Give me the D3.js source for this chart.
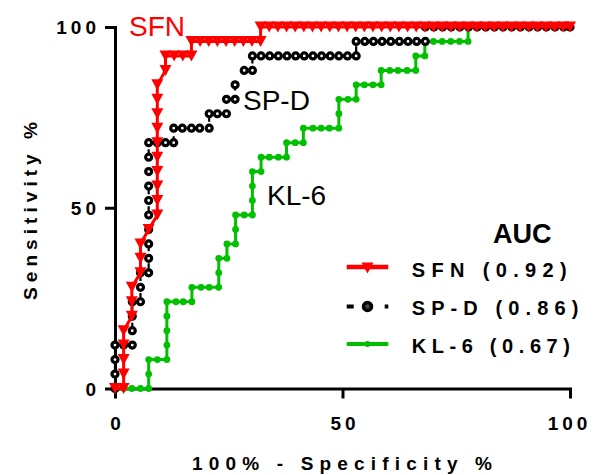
<!DOCTYPE html>
<html>
<head>
<meta charset="utf-8">
<script src="https://cdn.jsdelivr.net/npm/d3@7"></script>
<style>
  body { margin: 0; background: #fff; }
  svg { display: block; }
</style>
</head>
<body>
<div id="chart"></div>
<script>
// ROC points: [100% - specificity, sensitivity]
const sfnPoints = [
  [0, 0], [1.9, 0], [1.9, 4], [1.9, 8], [1.9, 12], [1.9, 16], [3.7, 20], [3.7, 24], [3.7, 28],
  [5.6, 32], [5.6, 36], [5.6, 40], [7.4, 44], [9.3, 48], [9.3, 52], [9.3, 56], [9.3, 60],
  [9.3, 64], [9.3, 68], [9.3, 72], [9.3, 76], [9.3, 80], [9.3, 84], [11.1, 88], [11.1, 92],
  [13.0, 92], [14.9, 92], [16.8, 92], [16.8, 96], [18.7, 96], [20.6, 96], [22.5, 96], [24.4, 96],
  [26.3, 96], [28.2, 96], [30.1, 96], [32.0, 96], [32.0, 100], [33.9, 100], [35.8, 100],
  [37.7, 100], [39.6, 100], [41.5, 100], [43.4, 100], [45.3, 100], [47.2, 100], [49.1, 100],
  [51.0, 100], [52.9, 100], [54.8, 100], [56.7, 100], [58.6, 100], [60.5, 100], [62.4, 100],
  [64.3, 100], [66.2, 100], [68.1, 100], [70.0, 100], [71.9, 100], [73.8, 100], [75.7, 100],
  [77.6, 100], [79.5, 100], [81.4, 100], [83.3, 100], [85.2, 100], [87.1, 100], [89.0, 100],
  [90.9, 100], [92.8, 100], [94.7, 100], [96.6, 100], [98.5, 100], [100, 100]
];

const spdPoints = [
  [0, 0], [0, 4], [0, 8], [0, 12], [1.9, 12], [3.8, 12], [3.8, 16], [3.8, 20], [3.8, 24],
  [5.6, 24], [5.6, 28], [5.6, 32], [7.4, 32], [7.4, 36], [7.4, 40], [7.4, 44], [7.4, 48],
  [7.4, 52], [7.4, 56], [7.4, 60], [7.4, 64], [7.4, 68], [9.3, 68], [11.1, 68], [12.9, 68],
  [12.9, 72], [14.8, 72], [16.8, 72], [18.6, 72], [20.7, 72], [20.7, 76], [22.5, 76], [24.5, 76],
  [24.5, 80], [26.4, 80], [26.4, 84], [28.4, 88], [30.2, 88], [30.2, 92], [32.1, 92], [34.0, 92],
  [35.9, 92], [37.8, 92], [39.7, 92], [41.6, 92], [43.5, 92], [45.4, 92], [47.3, 92], [49.2, 92],
  [51.1, 92], [53.0, 92], [53.0, 96], [54.9, 96], [56.8, 96], [58.7, 96], [60.6, 96], [62.5, 96],
  [64.4, 96], [66.3, 96], [68.2, 96], [68.2, 100], [70.1, 100], [72.0, 100], [73.9, 100],
  [75.8, 100], [77.7, 100], [79.6, 100], [81.5, 100], [83.4, 100], [85.3, 100], [87.2, 100],
  [89.1, 100], [91.0, 100], [92.9, 100], [94.8, 100], [96.7, 100], [98.6, 100], [100, 100]
];

const kl6Points = [
  [0, 0], [1.9, 0], [3.7, 0], [5.6, 0], [7.4, 0], [7.4, 4], [7.4, 8], [9.3, 8], [11.4, 8],
  [11.4, 12], [11.4, 16], [11.4, 20], [11.4, 24], [13.4, 24], [15.0, 24], [16.9, 24],
  [16.9, 28], [18.9, 28], [20.7, 28], [22.8, 28], [22.8, 32], [22.8, 36], [24.6, 36],
  [24.6, 40], [26.5, 40], [26.5, 44], [26.5, 48], [28.4, 48], [30.2, 48], [30.2, 52],
  [30.2, 56], [30.2, 60], [32.1, 60], [32.1, 64], [33.9, 64], [35.9, 64], [37.7, 64],
  [37.7, 68], [39.6, 68], [41.4, 68], [41.4, 72], [43.5, 72], [45.3, 72], [47.1, 72],
  [49.2, 72], [49.2, 76], [49.2, 80], [51.2, 80], [53.0, 80], [53.0, 84], [54.8, 84],
  [56.7, 84], [58.5, 84], [58.5, 88], [60.4, 88], [62.2, 88], [64.2, 88], [66.1, 88],
  [66.1, 92], [68.1, 92], [68.1, 96], [70.0, 96], [71.9, 96], [73.8, 96], [75.7, 96],
  [77.6, 96], [77.6, 100], [79.5, 100], [81.4, 100], [83.3, 100], [85.2, 100], [87.1, 100],
  [89.0, 100], [90.9, 100], [92.8, 100], [94.7, 100], [96.6, 100], [98.5, 100], [100, 100]
];

const xTicks = [0, 50, 100];
const yTicks = [0, 50, 100];
const seriesNames = ["SFN", "SP-D", "KL-6"];
const aucValues = ["0.92", "0.86", "0.67"];

const width = 594, height = 475;
const font = "'Liberation Sans', Arial, Helvetica, sans-serif";
const red = "#ff0000", green = "#00c000";

const svg = d3.select("#chart").append("svg")
  .attr("width", width)
  .attr("height", height);

const x = d3.scaleLinear().domain([0, 100]).range([115, 570]);
const y = d3.scaleLinear().domain([0, 100]).range([388.5, 27]);

const line = d3.line().x(d => x(d[0])).y(d => y(d[1]));

// axes
const xAxis = svg.append("g")
  .attr("transform", `translate(0,${y(0)})`)
  .call(d3.axisBottom(x).tickValues(xTicks).tickSize(10).tickSizeOuter(0));
const yAxis = svg.append("g")
  .attr("transform", `translate(${x(0)},0)`)
  .call(d3.axisLeft(y).tickValues(yTicks).tickSize(10).tickSizeOuter(0));

[xAxis, yAxis].forEach(g => {
  g.select(".domain").attr("stroke", "#000").attr("stroke-width", 3).attr("stroke-linecap", "square");
  g.selectAll(".tick line").attr("stroke", "#000").attr("stroke-width", 3);
  g.selectAll(".tick text")
    .attr("fill", "#000")
    .style("font-family", font)
    .style("font-size", "19px")
    .style("font-weight", "bold")
    .style("letter-spacing", "4px");
});
xAxis.selectAll(".tick text").attr("y", 28).attr("dy", "0.71em").attr("dx", 2);
// keep the last x label inside the picture
xAxis.selectAll(".tick text").filter(d => d === 100).attr("dx", -1);
yAxis.selectAll(".tick text").attr("x", -15).attr("dy", "0.35em");

// axis titles
svg.append("text")
  .attr("transform", "translate(37,211) rotate(-90)")
  .attr("text-anchor", "middle")
  .attr("textLength", 178)
  .attr("lengthAdjust", "spacing")
  .style("font-family", font).style("font-size", "19px").style("font-weight", "bold")
  .text("Sensitivity %");

svg.append("text")
  .attr("x", 342).attr("y", 470)
  .attr("text-anchor", "middle")
  .attr("textLength", 300)
  .attr("lengthAdjust", "spacing")
  .style("font-family", font).style("font-size", "19px").style("font-weight", "bold")
  .text("100% - Specificity %");

// markers
const triangle = "M-6,-5.5L6,-5.5L0,5.5Z";

function drawKl6(g, pts) {
  g.append("path").datum(pts).attr("d", line)
    .attr("fill", "none").attr("stroke", green).attr("stroke-width", 3);
  g.selectAll("circle.kl6").data(pts).enter().append("circle").classed("kl6", true)
    .attr("cx", d => x(d[0])).attr("cy", d => y(d[1])).attr("r", 3.4).attr("fill", green);
}
function drawSpd(g, pts) {
  g.append("path").datum(pts).attr("d", line)
    .attr("fill", "none").attr("stroke", "#000").attr("stroke-width", 2.2)
    .attr("stroke-dasharray", "7,12");
  g.selectAll("circle.spd").data(pts).enter().append("circle").classed("spd", true)
    .attr("cx", d => x(d[0])).attr("cy", d => y(d[1])).attr("r", 3)
    .attr("fill", "#fff").attr("stroke", "#000").attr("stroke-width", 3.2);
}
function drawSfn(g, pts) {
  g.append("path").datum(pts).attr("d", line)
    .attr("fill", "none").attr("stroke", red).attr("stroke-width", 3);
  g.selectAll("path.sfn").data(pts).enter().append("path").classed("sfn", true)
    .attr("d", triangle)
    .attr("transform", d => `translate(${x(d[0])},${y(d[1])})`)
    .attr("fill", red);
}

const plot = svg.append("g");
drawKl6(plot, kl6Points);
drawSpd(plot, spdPoints);
drawSfn(plot, sfnPoints);

// curve labels
svg.append("text").attr("x", 129).attr("y", 36).attr("fill", red)
  .style("font-family", font).style("font-size", "28px").text(seriesNames[0]);
svg.append("text").attr("x", 243).attr("y", 110).attr("fill", "#000")
  .style("font-family", font).style("font-size", "28px").text(seriesNames[1]);
svg.append("text").attr("x", 267).attr("y", 205).attr("fill", "#000")
  .style("font-family", font).style("font-size", "28px").text(seriesNames[2]);

// legend
svg.append("text").attr("x", 493).attr("y", 243)
  .style("font-family", font).style("font-size", "27px").style("font-weight", "bold")
  .text("AUC");

const legendRows = [267, 306.5, 344];
const legendText = [276.7, 315, 353.3];
const legendLen = [155, 166.6, 158.3];
const lx0 = 346.7, lx1 = 388.3, lxm = 367.5;

// SFN
svg.append("line").attr("x1", lx0).attr("x2", lx1).attr("y1", legendRows[0]).attr("y2", legendRows[0])
  .attr("stroke", red).attr("stroke-width", 4.5);
svg.append("path").attr("d", triangle).attr("transform", `translate(${lxm},${legendRows[0] + 1})`).attr("fill", red);
// SP-D
svg.append("line").attr("x1", lx0).attr("x2", lx1).attr("y1", legendRows[1]).attr("y2", legendRows[1])
  .attr("stroke", "#000").attr("stroke-width", 4).attr("stroke-dasharray", "7,12");
svg.append("circle").attr("cx", lxm).attr("cy", legendRows[1]).attr("r", 4)
  .attr("fill", "#444").attr("stroke", "#000").attr("stroke-width", 3.5);
// KL-6
svg.append("line").attr("x1", lx0).attr("x2", lx1).attr("y1", legendRows[2]).attr("y2", legendRows[2])
  .attr("stroke", green).attr("stroke-width", 4);
svg.append("circle").attr("cx", lxm).attr("cy", legendRows[2]).attr("r", 3).attr("fill", green);

seriesNames.forEach((name, i) => {
  svg.append("text")
    .attr("x", 411.7).attr("y", legendText[i])
    .attr("textLength", legendLen[i])
    .attr("lengthAdjust", "spacing")
    .style("font-family", font).style("font-size", "20px").style("font-weight", "bold")
    .text(`${name} (${aucValues[i]})`);
});
</script>
</body>
</html>
